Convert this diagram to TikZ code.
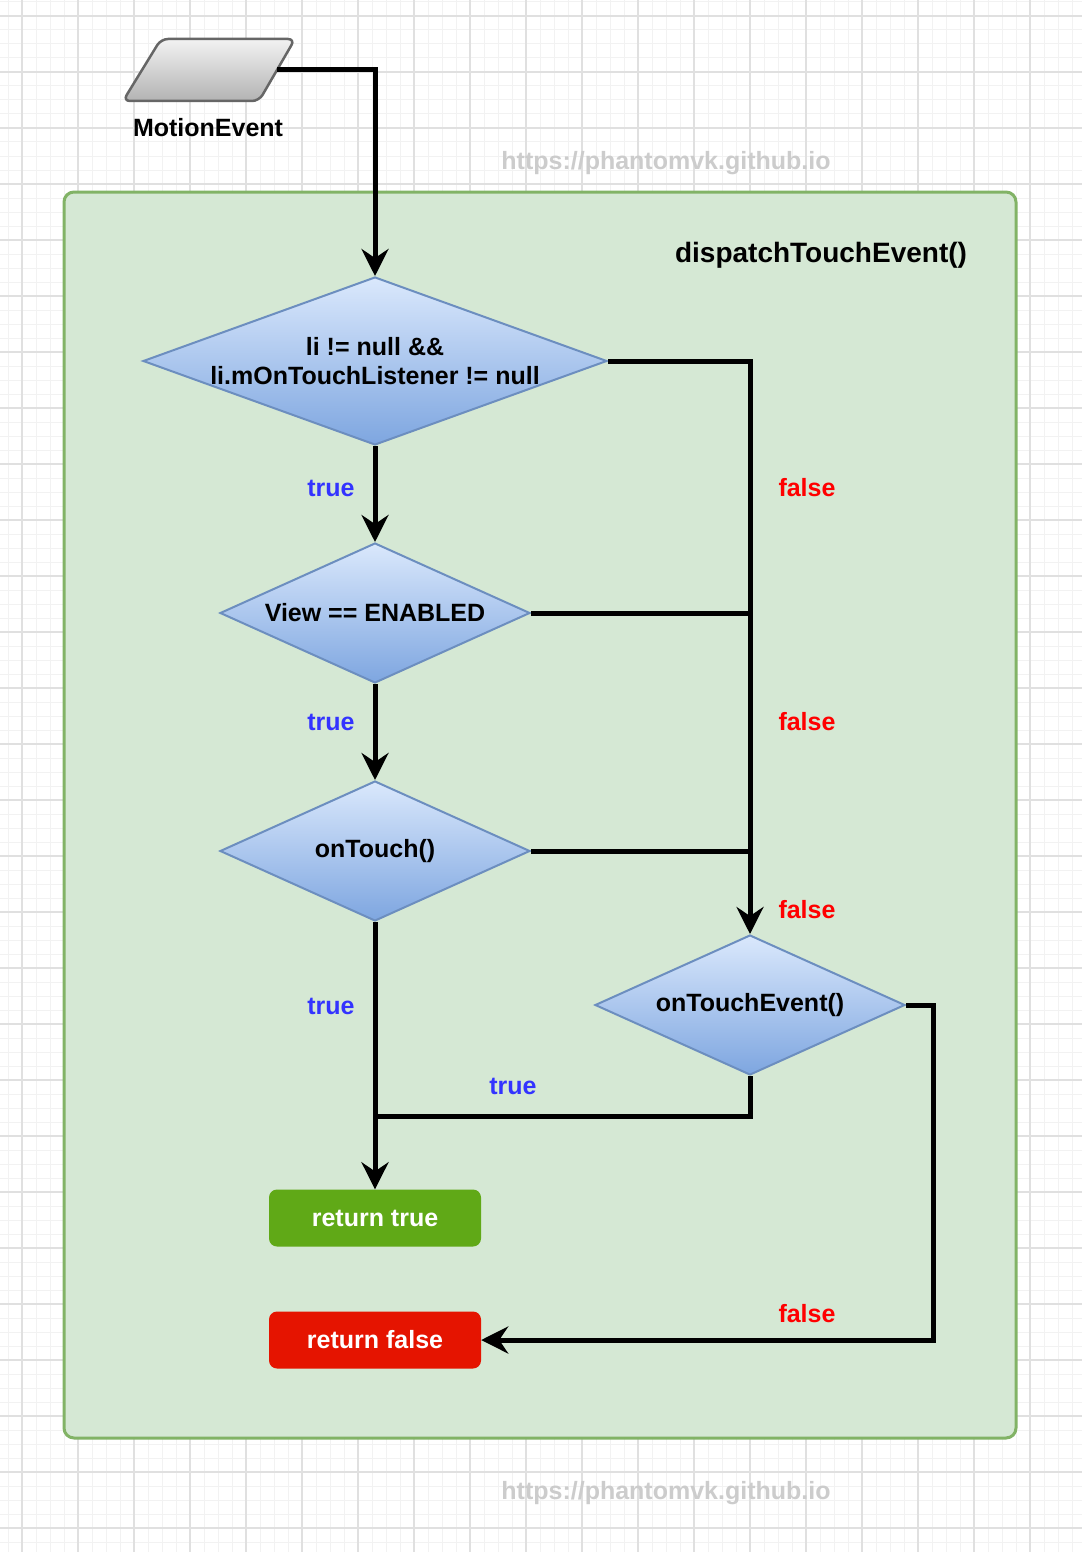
\documentclass[tikz,border=0pt]{standalone}
\usepackage{fontspec}
\setmainfont{Liberation Sans}
\usetikzlibrary{shapes.geometric,arrows.meta}
\definecolor{gridmajor}{HTML}{E0E0E0}
\definecolor{gridminor}{HTML}{F2F2F2}
\definecolor{contfill}{HTML}{D5E8D4}
\definecolor{contline}{HTML}{82B366}
\definecolor{dtop}{HTML}{DAE8FC}
\definecolor{dbot}{HTML}{7EA6E0}
\definecolor{dline}{HTML}{6C8EBF}
\definecolor{gtop}{HTML}{F2F2F2}
\definecolor{gbot}{HTML}{B3B3B3}
\definecolor{gline}{HTML}{666666}
\definecolor{okfill}{HTML}{60A917}
\definecolor{badfill}{HTML}{E51400}
\definecolor{truecol}{HTML}{3333FF}
\definecolor{falsecol}{HTML}{FF0000}
\definecolor{wmark}{HTML}{CCCCCC}
\begin{document}
\begin{tikzpicture}[x=1pt,y=-1pt,
  every node/.style={font=\fontsize{25pt}{29pt}\selectfont\bfseries},
  decision/.style={diamond, draw=dline, line width=2pt, top color=dtop, bottom color=dbot, inner sep=0pt, align=center},
  retbox/.style={rectangle, rounded corners=8pt, minimum width=212pt, minimum height=57pt, text=white, inner sep=0pt},
  flow/.style={line width=5pt, -{Stealth[length=27pt,width=27pt,inset=9pt]}},
  plain/.style={line width=5pt},
  tlabel/.style={text=truecol},
  flabel/.style={text=falsecol},
  wm/.style={text=wmark},
  inputshape/.style={draw=gline, line width=2.5pt, rounded corners=7pt, top color=gtop, bottom color=gbot}]
\useasboundingbox (0,0) rectangle (1082,1552);
\fill[white] (0,0) rectangle (1082,1552);
% grid
\foreach \x in {8,22,...,1082} \draw[gridminor, line width=1pt] (\x,0) -- (\x,1552);
\foreach \y in {2,16,...,1552} \draw[gridminor, line width=1pt] (0,\y) -- (1082,\y);
\foreach \x in {22,78,...,1082} \draw[gridmajor, line width=1.2pt] (\x,0) -- (\x,1552);
\foreach \y in {16,72,...,1552} \draw[gridmajor, line width=1.2pt] (0,\y) -- (1082,\y);
% container
\draw[contline, fill=contfill, line width=3pt, rounded corners=10pt] (64,192) rectangle (1016,1438);
\node[font=\fontsize{28pt}{32pt}\selectfont\bfseries] (title) at (821,255) {dispatchTouchEvent()};
% watermarks
\node[wm] (wm1) at (666,163) {https://phantomvk.github.io};
\node[wm] (wm2) at (666,1493) {https://phantomvk.github.io};
% input
\path[inputshape] (161,39) -- (295,39) -- (259,101) -- (123,101) -- cycle;
\coordinate (me) at (277,70);
\node (melabel) at (208,128) {MotionEvent};
% decisions
\node[decision, aspect=2.762, minimum width=464pt, minimum height=168pt] (d1) at (375,361) {li != null \&\&\\li.mOnTouchListener != null};
\node[decision, aspect=2.214, minimum width=310pt, minimum height=140pt] (d2) at (375,613) {View == ENABLED};
\node[decision, aspect=2.214, minimum width=310pt, minimum height=140pt] (d3) at (375,851) {onTouch()};
\node[decision, aspect=2.214, minimum width=310pt, minimum height=140pt] (d4) at (750,1005) {onTouchEvent()};
% returns
\node[retbox, fill=okfill] (rt) at (375,1218) {return true};
\node[retbox, fill=badfill] (rf) at (375,1340) {return false};
% junction coordinates
\coordinate (jtop) at (375,70);
\coordinate (j1) at (750,361);
\coordinate (j2) at (750,613);
\coordinate (j3) at (750,851);
\coordinate (j4) at (750,1116);
\coordinate (j5) at (375,1116);
\coordinate (j6) at (933,1005);
\coordinate (j7) at (933,1340);
% connectors
\draw[flow] (me) -- (jtop) -- (d1.north);
\draw[flow] (d1.south) -- (d2.north);
\draw[flow] (d2.south) -- (d3.north);
\draw[flow] (d3.south) -- (rt.north);
\draw[flow] (d1.east) -- (j1) -- (d4.north);
\draw[plain] (d2.east) -- (j2);
\draw[plain] (d3.east) -- (j3);
\draw[plain] (d4.south) -- (j4) -- (j5);
\draw[flow] (d4.east) -- (j6) -- (j7) -- (rf.east);
% labels
\node[tlabel] (t1) at (331,488) {true};
\node[tlabel] (t2) at (331,722) {true};
\node[tlabel] (t3) at (331,1006) {true};
\node[tlabel] (t4) at (513,1086) {true};
\node[flabel] (f1) at (807,488) {false};
\node[flabel] (f2) at (807,722) {false};
\node[flabel] (f3) at (807,910) {false};
\node[flabel] (f4) at (807,1314) {false};
\end{tikzpicture}
\end{document}
